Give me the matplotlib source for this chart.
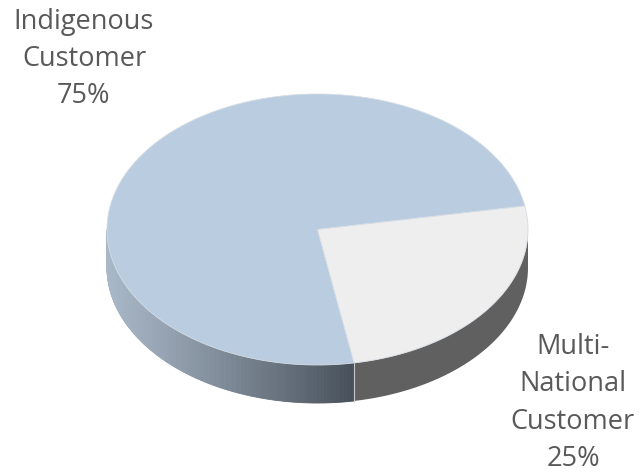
"""
    Customer split, 3D-style pie
"""

import numpy as np
import matplotlib.pyplot as plt
from matplotlib.patches import Polygon
from matplotlib.colors import to_rgb

# Data
labels = ['Indigenous\nCustomer', 'Multi-\nNational\nCustomer']
shares = [75, 25]

# Look of the pie (pixel coordinates)
cx, cy = 317.5, 229.5        # centre of the top face
rx, ry = 210.5, 135.5        # radii of the top face
depth = 38.                  # thickness of the disc
start = 280.                 # angle where the first slice ends [deg]
top_colors = ['#B9CCE0', '#EEEEEE']
side_gray = '#606060'
side_light = np.array(to_rgb('#A9B8C8'))
side_dark = np.array(to_rgb('#47505A'))
text_color = '#595959'


def edge(t_deg, dy=0.):
    t = np.radians(t_deg)
    return np.column_stack([cx + rx * np.cos(t), cy - ry * np.sin(t) + dy])


fig = plt.figure(figsize=(6.43, 4.76), dpi=100)
ax = fig.add_axes([0, 0, 1, 1])
ax.set_xlim(0, 643)
ax.set_ylim(476, 0)
ax.axis('off')

# Slice angles: first slice counter-clockwise from its start to `start`
fracs = np.array(shares) / np.sum(shares) * 360.
theta_a = start - fracs[0]          # indigenous: theta_a .. start
spans = [(theta_a, start), (start, start + fracs[1])]

# Side wall, only the front half (180..360 deg) is visible
for k, (t0, t1) in enumerate(spans):
    lo, hi = max(t0, 180.), min(t1, 360.)
    if hi <= lo:
        continue
    n = int((hi - lo) * 2) + 2
    ts = np.linspace(lo, hi, n)
    if k == 0:
        xs = edge(ts)[:, 0]
        x0, x1 = xs.min(), xs.max()
        for i in range(n - 1):
            seg = np.array([ts[i], ts[i + 1]])
            top = edge(seg)
            bot = edge(seg[::-1], depth)
            f = ((top[:, 0].mean() - x0) / (x1 - x0)) ** 1.1
            col = side_light * (1 - f) + side_dark * f
            ax.add_patch(Polygon(np.vstack([top, bot]), closed=True,
                                 facecolor=col, edgecolor=col, lw=0.6))
    else:
        top = edge(ts)
        bot = edge(ts[::-1], depth)
        ax.add_patch(Polygon(np.vstack([top, bot]), closed=True,
                             facecolor=side_gray, edgecolor='none'))

# Light seam where the two slices meet on the wall
seam = edge(np.array([start]))[0]
ax.plot([seam[0], seam[0]], [seam[1], seam[1] + depth],
        color='#C8C8C8', lw=0.8)

# Top face of every slice
for (t0, t1), col in zip(spans, top_colors):
    ts = np.linspace(t0, t1, 300)
    pts = np.vstack([[cx, cy], edge(ts)])
    ax.add_patch(Polygon(pts, closed=True, facecolor=col,
                         edgecolor='#D6DCE4', lw=0.6))

# Labels
ax.text(84, 59, f'{labels[0]}\n{shares[0]}%', ha='center', va='center',
        fontsize=19.5, color=text_color, family='Open Sans',
        linespacing=1.45)
ax.text(573, 403, f'{labels[1]}\n{shares[1]}%', ha='center', va='center',
        fontsize=19.5, color=text_color, family='Open Sans',
        linespacing=1.45)

fig.savefig('out.png', dpi=100)
